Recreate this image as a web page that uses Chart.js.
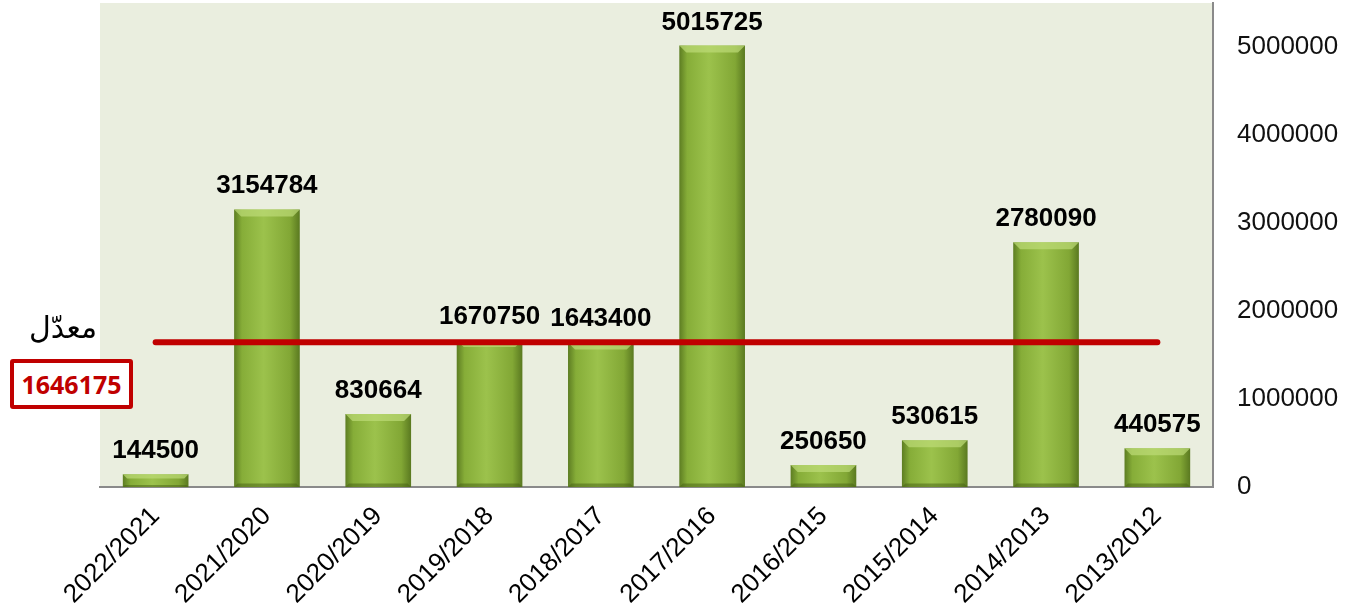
<!DOCTYPE html>
<html>
<head>
<meta charset="utf-8">
<script src="https://cdn.jsdelivr.net/npm/chart.js@4.4.1/dist/chart.umd.min.js"></script>
<style>
  html, body { margin: 0; padding: 0; background: #fff; }
  #wrap { position: relative; width: 1360px; height: 615px; }
  #avgLabel {
    position: absolute; left: 29px; top: 310px;
    font: 30px "DejaVu Sans", sans-serif; color: #000; direction: rtl;
  }
  #avgBox {
    position: absolute; left: 10px; top: 359px; width: 115px; height: 42px;
    border: 4px solid #c00000; border-radius: 3px; background: #fff;
    font: bold 25px "Noto Sans", sans-serif; color: #c00000;
    text-align: center; line-height: 42px;
  }
</style>
</head>
<body>
<div id="wrap">
  <canvas id="chart" width="1360" height="615"></canvas>
  <div id="avgLabel">معدّل</div>
  <div id="avgBox">1646175</div>
</div>
<script>
// ── Data ────────────────────────────────────────────────────────────────
const categories = ['2022/2021', '2021/2020', '2020/2019', '2019/2018', '2018/2017',
                    '2017/2016', '2016/2015', '2015/2014', '2014/2013', '2013/2012'];
const values     = [144500, 3154784, 830664, 1670750, 1643400,
                    5015725, 250650, 530615, 2780090, 440575];
const average    = 1646175;
const yTicks     = [0, 1000000, 2000000, 3000000, 4000000, 5000000];

const avgLine = categories.map(() => average);

// ── Plugins ─────────────────────────────────────────────────────────────
const plotBackground = {
    id: 'plotBackground',
    beforeDraw: (chart) => {
        const { ctx, chartArea: a } = chart;
        ctx.save();
        ctx.fillStyle = '#eaeedf';
        ctx.fillRect(a.left, a.top, a.right - a.left, a.bottom - a.top);
        ctx.restore();
    }
};

const barDecor = {
    id: 'barDecor',
    afterDatasetDraw: (chart, args) => {
        if (args.index !== 0) return;
        const { ctx } = chart;
        ctx.save();
        args.meta.data.forEach((bar, i) => {
            const w = bar.width, l = bar.x - w / 2, r = bar.x + w / 2, t = bar.y, b = bar.base;
            const bev = Math.min(7, (b - t) / 3);
            // top bevel
            ctx.fillStyle = 'rgba(190,220,120,0.7)';
            ctx.beginPath();
            ctx.moveTo(l, t); ctx.lineTo(r, t);
            ctx.lineTo(r - bev, t + bev); ctx.lineTo(l + bev, t + bev);
            ctx.closePath(); ctx.fill();
            // bottom bevel
            ctx.fillStyle = 'rgba(70,95,20,0.5)';
            ctx.beginPath();
            ctx.moveTo(l, b); ctx.lineTo(r, b);
            ctx.lineTo(r - bev / 2, b - bev / 2); ctx.lineTo(l + bev / 2, b - bev / 2);
            ctx.closePath(); ctx.fill();
            // value label
            ctx.fillStyle = '#000';
            ctx.font = 'bold 26px "Liberation Sans", Arial, sans-serif';
            ctx.textAlign = 'center';
            ctx.textBaseline = 'alphabetic';
            ctx.fillText(String(values[i]), bar.x, t - 16);
        });
        ctx.restore();
    }
};

function barGradient(context) {
    const chart = context.chart;
    if (!chart.chartArea || !chart.scales.x) return '#8db43c';
    const x = chart.scales.x.getPixelForValue(context.dataIndex);
    const half = (chart.chartArea.right - chart.chartArea.left) / categories.length * 0.59 / 2;
    const g = chart.ctx.createLinearGradient(x - half, 0, x + half, 0);
    g.addColorStop(0, '#5d7d22');
    g.addColorStop(0.12, '#86ad38');
    g.addColorStop(0.45, '#9cc24c');
    g.addColorStop(0.85, '#82a735');
    g.addColorStop(1, '#5a7920');
    return g;
}

// ── Chart ───────────────────────────────────────────────────────────────
new Chart(document.getElementById('chart'), {
    type: 'bar',
    data: {
        labels: categories,
        datasets: [{
            type: 'bar',
            data: values,
            backgroundColor: barGradient,
            borderWidth: 0,
            categoryPercentage: 1,
            barPercentage: 0.59,
            order: 1
        }, {
            type: 'line',
            data: avgLine,
            borderColor: '#c00000',
            borderWidth: 6,
            borderCapStyle: 'round',
            pointRadius: 0,
            fill: false,
            order: 0
        }]
    },
    options: {
        responsive: false,
        animation: false,
        layout: { autoPadding: false, padding: { left: 100, top: 3, right: 0, bottom: 0 } },
        plugins: { legend: { display: false }, tooltip: { enabled: false } },
        scales: {
            x: {
                grid: { display: false },
                border: { display: true, color: '#8a8a8a', width: 2 },
                ticks: {
                    color: '#000',
                    font: { size: 26, family: '"Liberation Sans", Arial, sans-serif' },
                    minRotation: 45, maxRotation: 45, padding: 6
                },
                afterFit: (scale) => {
                    scale.height = 128;
                    scale.paddingLeft = 0; scale.paddingRight = 0;
                    scale.paddingTop = 0; scale.paddingBottom = 0;
                }
            },
            y: {
                position: 'right',
                min: 0,
                max: 5500000,
                grid: { display: false, drawTicks: false },
                border: { display: true, color: '#8a8a8a', width: 2 },
                afterBuildTicks: (scale) => { scale.ticks = yTicks.map(v => ({ value: v })); },
                ticks: {
                    color: '#111',
                    padding: 24,
                    font: { size: 26, family: '"Liberation Sans", Arial, sans-serif' },
                    callback: (v) => String(v)
                },
                afterFit: (scale) => {
                    scale.width = 147;
                    scale.paddingTop = 0; scale.paddingBottom = 0;
                }
            }
        }
    },
    plugins: [plotBackground, barDecor]
});
</script>
</body>
</html>
